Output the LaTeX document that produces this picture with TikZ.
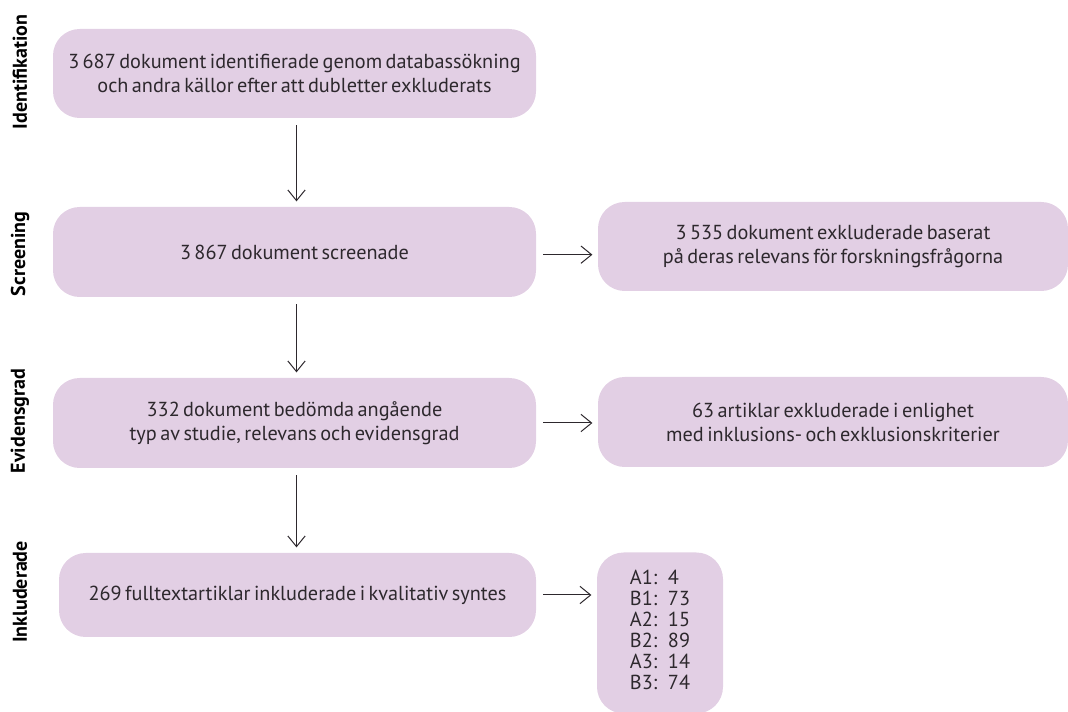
\documentclass[tikz,border=0pt]{standalone}
\usepackage{fontspec}
\setmainfont{PT Sans}
\usetikzlibrary{arrows.meta}
\definecolor{boxfill}{RGB}{226,207,228}
\definecolor{txt}{RGB}{45,40,45}
\newcommand{\boxfont}{\fontsize{15.2}{18}\selectfont\spaceskip=0.17em plus 0.05em minus 0.02em\relax}
\begin{document}
\begin{tikzpicture}[x=0.75pt,y=-0.75pt,
  box/.style={fill=boxfill, rounded corners=20pt, inner sep=0pt, text=txt, align=center,
    font=\boxfont},
  arr/.style={draw=txt, line width=0.75pt, -{Straight Barb[length=8pt,width=13pt,line width=0.75pt]},
    shorten <=5.25pt, shorten >=4pt},
  side/.style={rotate=90, font=\bfseries\fontsize{15}{17}\selectfont, text=black, inner sep=0pt}]
\useasboundingbox (0,0) rectangle (1068,712);
% boxes
\node[box, minimum width=362.25pt, minimum height=66.75pt] (id) at (294.5,73.5)
  {3\,687 dokument identifierade genom databassökning\\och andra källor efter att dubletter exkluderats};
\node[box, minimum width=362.25pt, minimum height=67.5pt] (scr) at (294.5,252)
  {3\,867 dokument screenade};
\node[box, minimum width=352.5pt, minimum height=66.75pt] (ex1) at (833,246.5)
  {3\,535 dokument exkluderade baserat\\på deras relevans för forskningsfrågorna};
\node[box, minimum width=362.25pt, minimum height=67.5pt] (evi) at (294.5,423)
  {332 dokument bedömda angående\\typ av studie, relevans och evidensgrad};
\node[box, minimum width=352.5pt, minimum height=67.5pt] (ex2) at (833,422)
  {63 artiklar exkluderade i enlighet\\med inklusions- och exklusionskriterier};
\node[box, minimum width=357.75pt, minimum height=63pt] (inc) at (297.5,595)
  {269 fulltextartiklar inkluderade i kvalitativ syntes};
\node[box, minimum width=94.5pt, minimum height=120.75pt, font=\fontsize{15.2}{15.75}\selectfont] (res) at (660,633)
  {\begin{tabular}{@{}l@{\hspace{8pt}}l@{}}
   A1: & 4\\ B1: & 73\\ A2: & 15\\ B2: & 89\\ A3: & 14\\ B3: & 74
   \end{tabular}};
% side labels
\node[side] (l1) at (20,72) {Identifikation};
\node[side] (l2) at (20,254) {Screening};
\node[side] (l3) at (20,421) {Evidensgrad};
\node[side] (l4) at (20,592) {Inkluderade};
% arrows
\draw[arr] ([xshift=1.5]id.south) -- ([xshift=1.5]id.south |- scr.north);
\draw[arr] ([xshift=1.5]scr.south) -- ([xshift=1.5]scr.south |- evi.north);
\draw[arr] ([xshift=1.5]evi.south) -- ([xshift=1.5]evi.south |- inc.north);
\draw[arr] ([yshift=-2]scr.east) -- ([yshift=-2]scr.east -| ex1.west);
\draw[arr] (evi.east) -- (evi.east -| ex2.west);
\draw[arr] (inc.east) -- (inc.east -| res.west);
\end{tikzpicture}
\end{document}
